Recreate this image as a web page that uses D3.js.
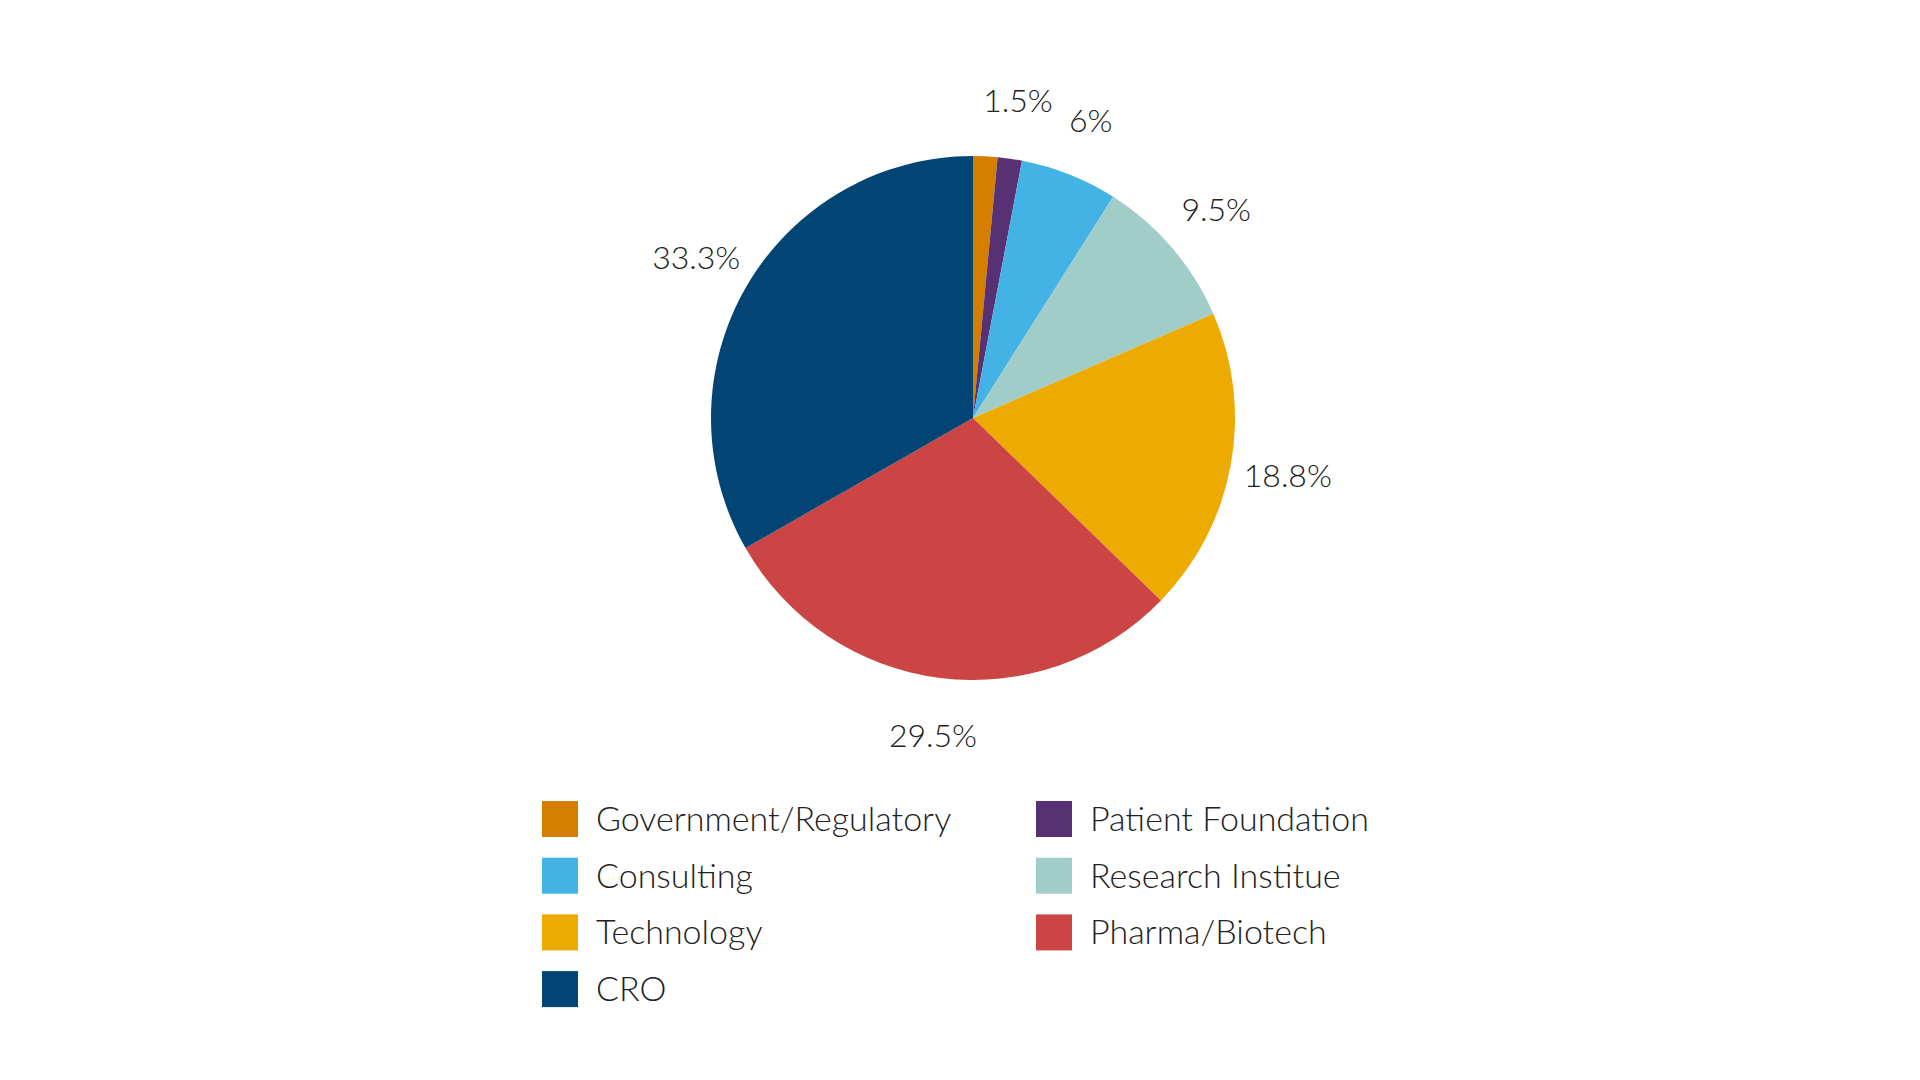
<!DOCTYPE html><html><head><meta charset="utf-8"><script src="https://cdn.jsdelivr.net/npm/d3@7"></script>
<style>body{margin:0;background:#fff}text{font-family:Lato,"Open Sans",sans-serif;font-weight:300;fill:#222}</style></head><body>
<svg id="c" width="1920" height="1080"></svg>
<script>
const categories=["Government/Regulatory","Patient Foundation","Consulting","Research Institue","Technology","Pharma/Biotech","CRO"];
const values=[1.5,1.5,6,9.5,18.8,29.5,33.3];
const labels=["","1.5%","6%","9.5%","18.8%","29.5%","33.3%"];
const colors=["#d47f00","#573174","#43b3e5","#a1cdc8","#edaa00","#cc4545","#024575"];
const svg=d3.select("#c");
const cx=973,cy=418,r=262,lr=320;
const pie=d3.pie().sort(null).value(d=>d)(values);
const arc=d3.arc().innerRadius(0).outerRadius(r);
const la=d3.arc().innerRadius(lr).outerRadius(lr);
const g=svg.append("g").attr("transform",`translate(${cx},${cy})`);
g.selectAll("path").data(pie).join("path").attr("d",arc).attr("fill",(d,i)=>colors[i]);
g.selectAll("text").data(pie).join("text").attr("transform",d=>`translate(${la.centroid(d)})`)
 .attr("text-anchor","middle").attr("dy","0.35em").attr("font-size",32).text((d,i)=>labels[i]);
const order=[0,1,2,3,4,5,6];
const lg=svg.append("g");
order.forEach((k,j)=>{const col=j%2,row=Math.floor(j/2);
 const x=col?1036:542,y=819+row*56.7;
 lg.append("rect").attr("x",x).attr("y",y-18).attr("width",36).attr("height",36).attr("fill",colors[k]);
 lg.append("text").attr("x",x+54).attr("y",y).attr("dy","0.35em").attr("font-size",34).text(categories[k]);});
</script></body></html>
